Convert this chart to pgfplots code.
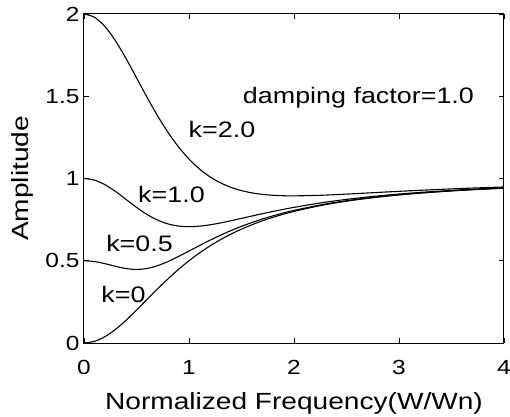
\documentclass[border=0pt]{standalone}
\usepackage{fontspec}
\setmainfont{Liberation Sans}[FakeStretch=1.2]
\usepackage{pgfplots}
\pgfplotsset{compat=1.18}
\begin{document}
\begin{tikzpicture}
\useasboundingbox (-84bp,-74bp) rectangle (426bp,343bp);
\begin{axis}[
  at={(0bp,0bp)}, anchor=south west,
  scale only axis, width=420bp, height=329bp,
  xmin=0, xmax=4, ymin=0, ymax=2,
  xtick={0,1,2,3,4}, ytick={0,0.5,1,1.5,2},
  tick align=inside, major tick length=5bp,
  /pgf/number format/assume math mode=true,
  tick label style={font=\fontsize{20.5}{20.5}\selectfont, black},
  xticklabel style={yshift=-14bp},
  yticklabel style={xshift=-1bp},
  label style={font=\fontsize{23.5}{23.5}\selectfont},
  xlabel style={yshift=-11bp},
  ylabel style={yshift=5bp},
  xlabel={Normalized Frequency(W/Wn)},
  ylabel={Amplitude},
  axis line style={line width=1bp, black},
  tick style={line width=0.8bp, black},
  cycle list={{black}},
  every axis plot/.append style={black, line width=1.1bp, no marks, smooth},
]
% k = 0
\addplot coordinates {(0,0) (0.1,0.0099) (0.2,0.0385) (0.3,0.0826) (0.4,0.1379) (0.5,0.2) (0.6,0.2647) (0.7,0.3289) (0.8,0.3902) (0.9,0.4475) (1.0,0.5) (1.1,0.5475) (1.2,0.5902) (1.3,0.6283) (1.4,0.6622) (1.5,0.6923) (1.6,0.7191) (1.7,0.7429) (1.8,0.7642) (1.9,0.7831) (2.0,0.8) (2.25,0.8351) (2.5,0.8621) (2.75,0.8832) (3.0,0.9) (3.25,0.9135) (3.5,0.9245) (3.75,0.9336) (4.0,0.9412)};
% k = 0.5
\addplot coordinates {(0,0.5) (0.1,0.4951) (0.2,0.4823) (0.3,0.4661) (0.4,0.4526) (0.5,0.4472) (0.6,0.4530) (0.7,0.4699) (0.8,0.4952) (0.9,0.5259) (1.0,0.5590) (1.1,0.5924) (1.2,0.6247) (1.3,0.6552) (1.4,0.6834) (1.5,0.7092) (1.6,0.7327) (1.7,0.7540) (1.8,0.7732) (1.9,0.7906) (2.0,0.8062) (2.25,0.8391) (2.5,0.8648) (2.75,0.8851) (3.0,0.9014) (3.25,0.9145) (3.5,0.9253) (3.75,0.9342) (4.0,0.9416)};
% k = 1.0
\addplot coordinates {(0,1) (0.1,0.9901) (0.2,0.9623) (0.3,0.9211) (0.4,0.8730) (0.5,0.8246) (0.6,0.7815) (0.7,0.7474) (0.8,0.7240) (0.9,0.7110) (1.0,0.7071) (1.1,0.7103) (1.2,0.7185) (1.3,0.7300) (1.4,0.7434) (1.5,0.7576) (1.6,0.7720) (1.7,0.7862) (1.8,0.7997) (1.9,0.8126) (2.0,0.8246) (2.25,0.8512) (2.5,0.8730) (2.75,0.8909) (3.0,0.9055) (3.25,0.9176) (3.5,0.9276) (3.75,0.9360) (4.0,0.9430)};
% k = 2.0
\addplot coordinates {(0,2) (0.1,1.9802) (0.2,1.9235) (0.3,1.8367) (0.4,1.7297) (0.5,1.6125) (0.6,1.4942) (0.7,1.3820) (0.8,1.2804) (0.9,1.1922) (1.0,1.1180) (1.1,1.0577) (1.2,1.0100) (1.3,0.9734) (1.4,0.9460) (1.5,0.9263) (1.6,0.9125) (1.7,0.9035) (1.8,0.8980) (1.9,0.8952) (2.0,0.8944) (2.25,0.8979) (2.5,0.9051) (2.75,0.9136) (3.0,0.9220) (3.25,0.9297) (3.5,0.9368) (3.75,0.9430) (4.0,0.9485)};
\node[font=\fontsize{22.5}{22.5}\selectfont, anchor=center] at (axis cs:2.614,1.489) {damping factor=1.0};
\node[font=\fontsize{22.5}{22.5}\selectfont, anchor=center] at (axis cs:1.314,1.30) {k=2.0};
\node[font=\fontsize{22.5}{22.5}\selectfont, anchor=center] at (axis cs:0.833,0.90) {k=1.0};
\node[font=\fontsize{22.5}{22.5}\selectfont, anchor=center] at (axis cs:0.529,0.602) {k=0.5};
\node[font=\fontsize{22.5}{22.5}\selectfont, anchor=center] at (axis cs:0.376,0.292) {k=0};
\end{axis}
\end{tikzpicture}
\end{document}
